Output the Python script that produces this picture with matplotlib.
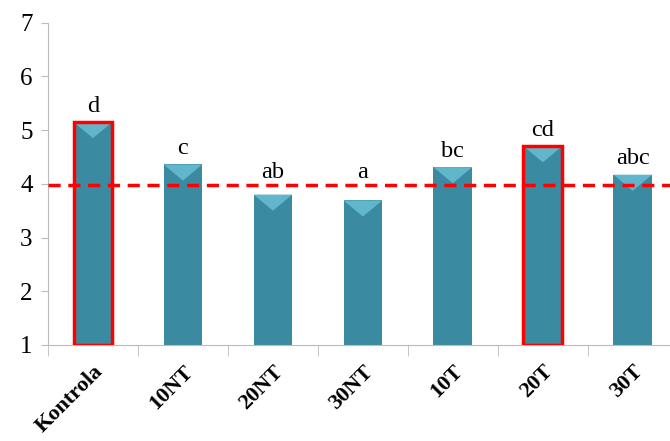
import matplotlib
matplotlib.use('Agg')
import matplotlib.pyplot as plt
from matplotlib.patches import Polygon
import numpy as np

categories = ['Kontrola', '10NT', '20NT', '30NT', '10T', '20T', '30T']
values = [5.15, 4.36, 3.80, 3.69, 4.31, 4.70, 4.17]
letters = ['d', 'c', 'ab', 'a', 'bc', 'cd', 'abc']
highlighted = [True, False, False, False, False, True, False]
reference_level = 3.97

bar_color = '#3A8BA2'
bevel_color = '#62B6CC'
red = '#FF0000'

plt.rcParams['font.family'] = ['Liberation Serif', 'DejaVu Serif']

fig = plt.figure(figsize=(6.7, 4.41), dpi=100)
ax = fig.add_axes([0.0716, 0.2177, 0.940, 0.731])

x = np.arange(len(categories))
w = 0.43
base = 1
ax.bar(x, np.array(values) - base, bottom=base, width=w,
       color=bar_color, edgecolor='none', zorder=2)

# bevel on top of each bar
for xi, v in zip(x, values):
    depth = 0.3
    tri = Polygon([[xi - w / 2, v], [xi + w / 2, v], [xi, v - depth]],
                  closed=True, facecolor=bevel_color, edgecolor='none', zorder=3)
    ax.add_patch(tri)

for xi, v, hl in zip(x, values, highlighted):
    if hl:
        ax.bar(xi, v - base, bottom=base, width=w, color='none',
               edgecolor=red, linewidth=2.5, zorder=4)

# letters sit above the bar, or just above the dashed line when the bar is lower
for xi, v, lab in zip(x, values, letters):
    y = v + 0.19 if v > reference_level else reference_level + 0.13
    ax.text(xi, y, lab, ha='center', va='baseline', fontsize=17.5, color='black')

ax.axhline(reference_level, color=red, linestyle=(0, (3.5, 2.2)), linewidth=2.5, zorder=5)

ax.set_xlim(-0.5, len(categories) - 0.5)
ax.set_ylim(1, 7)
ax.set_yticks(range(1, 8))
ax.tick_params(axis='y', labelsize=18, length=5, color='#BBBBBB', pad=6)

ax.set_xticks(x)
ax.set_xticklabels(categories, rotation=45, ha='right', rotation_mode='anchor',
                   fontsize=16, fontweight='bold')
ax.tick_params(axis='x', length=0, pad=12)
ax.set_xticks(np.arange(-0.5, len(categories), 1), minor=True)
ax.tick_params(axis='x', which='minor', length=8, color='#BBBBBB')

for side in ['top', 'right']:
    ax.spines[side].set_visible(False)
ax.spines['left'].set_color('#BBBBBB')
ax.spines['bottom'].set_color('#BBBBBB')

fig.savefig('out.png', dpi=100)
